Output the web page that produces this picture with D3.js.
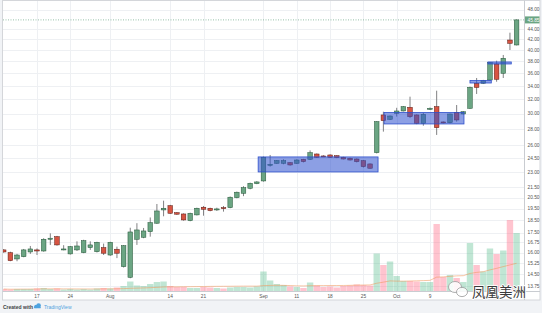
<!DOCTYPE html>
<html>
<head>
<meta charset="utf-8">
<script src="https://cdn.jsdelivr.net/npm/d3@7"></script>
<style>
	body { margin: 0; background: #f1f3f6; }
	svg { display: block; font-family: "Liberation Sans", Arial, sans-serif; }
</style>
</head>
<body>
<svg id="main-svg" width="542" height="313"></svg>
<script>
const dates = [
	"2017-07-10","2017-07-11","2017-07-12","2017-07-13","2017-07-14",
	"2017-07-17","2017-07-18","2017-07-19","2017-07-20","2017-07-21",
	"2017-07-24","2017-07-25","2017-07-26","2017-07-27","2017-07-28",
	"2017-07-31","2017-08-01","2017-08-02","2017-08-03","2017-08-04",
	"2017-08-07","2017-08-08","2017-08-09","2017-08-10","2017-08-11",
	"2017-08-14","2017-08-15","2017-08-16","2017-08-17","2017-08-18",
	"2017-08-21","2017-08-22","2017-08-23","2017-08-24","2017-08-25",
	"2017-08-28","2017-08-29","2017-08-30","2017-08-31","2017-09-01",
	"2017-09-05","2017-09-06","2017-09-07","2017-09-08",
	"2017-09-11","2017-09-12","2017-09-13","2017-09-14","2017-09-15",
	"2017-09-18","2017-09-19","2017-09-20","2017-09-21","2017-09-22",
	"2017-09-25","2017-09-26","2017-09-27","2017-09-28","2017-09-29",
	"2017-10-02","2017-10-03","2017-10-04","2017-10-05","2017-10-06",
	"2017-10-09","2017-10-10","2017-10-11","2017-10-12","2017-10-13",
	"2017-10-16","2017-10-17","2017-10-18","2017-10-19","2017-10-20",
	"2017-10-23","2017-10-24","2017-10-25","2017-10-26"
];

const open = [
	16.19, 15.99, 15.54, 15.70, 16.04, 16.19, 16.11, 16.99, 17.19, 16.19,
	15.90, 16.19, 15.99, 16.36, 16.06, 16.36, 15.82, 16.24, 15.01, 14.30,
	16.99, 17.14, 17.58, 18.27, 19.40, 19.78, 19.16, 19.05, 18.48, 18.97,
	19.64, 19.55, 19.40, 19.60, 19.60, 20.51, 20.92, 21.40, 21.85, 22.12,
	23.75, 23.96, 23.96, 24.03, 23.96, 24.40, 24.40, 24.99, 24.77, 24.88,
	24.80, 24.62, 24.51, 24.43, 24.25, 23.89, 25.14, 29.82, 29.24, 30.05,
	30.36, 30.87, 29.82, 28.72, 30.59, 30.96, 28.89, 28.79, 30.18, 29.95,
	30.73, 34.42, 34.42, 34.93, 37.56, 36.01, 41.86, 40.93
];
const high = [
	16.25, 16.06, 15.90, 16.26, 16.48, 16.30, 17.07, 17.45, 17.25, 16.54,
	16.48, 16.83, 16.95, 16.83, 16.80, 16.66, 16.80, 16.43, 16.55, 17.90,
	18.27, 17.88, 18.75, 19.93, 20.23, 19.85, 19.22, 19.10, 19.16, 19.60,
	19.75, 19.60, 19.60, 19.75, 20.62, 21.08, 21.60, 21.95, 22.10, 24.70,
	24.88, 24.32, 24.40, 24.10, 24.40, 24.45, 25.40, 25.05, 24.85, 24.95,
	24.86, 24.68, 24.58, 24.50, 24.32, 23.95, 29.00, 30.26, 29.75, 30.80,
	31.05, 32.39, 29.90, 30.10, 30.85, 33.28, 28.95, 30.00, 31.19, 30.35,
	33.90, 35.25, 34.95, 37.90, 38.12, 39.12, 43.27, 45.95
];
const low = [
	15.98, 15.38, 15.38, 15.66, 15.90, 15.82, 16.06, 16.56, 16.50, 16.16,
	15.85, 16.11, 15.95, 16.19, 16.00, 15.82, 15.76, 15.60, 14.95, 14.24,
	16.56, 17.07, 17.19, 18.21, 18.85, 19.05, 18.97, 18.48, 18.43, 18.92,
	18.90, 19.28, 19.31, 19.25, 19.55, 20.45, 20.65, 21.30, 21.80, 22.05,
	23.60, 23.90, 23.85, 23.70, 23.90, 24.05, 24.32, 24.55, 24.65, 24.55,
	24.52, 24.38, 24.26, 24.05, 23.50, 23.38, 25.05, 27.65, 29.15, 29.60,
	30.30, 29.40, 28.60, 28.40, 30.50, 27.24, 28.70, 28.70, 28.93, 29.90,
	30.65, 32.79, 34.30, 34.85, 34.66, 35.25, 40.01, 40.85
];
const close = [
	16.04, 15.42, 15.82, 16.19, 16.26, 16.11, 16.99, 17.07, 16.56, 16.26,
	16.43, 16.48, 16.88, 16.56, 16.76, 15.95, 16.76, 15.95, 16.50, 17.56,
	17.72, 17.64, 18.32, 19.31, 19.55, 19.11, 19.03, 18.54, 19.11, 19.55,
	19.46, 19.34, 19.49, 19.55, 20.55, 21.02, 21.46, 21.89, 22.02, 24.62,
	23.85, 24.25, 24.25, 23.78, 24.32, 24.14, 25.14, 24.62, 24.72, 24.62,
	24.58, 24.43, 24.32, 24.14, 23.60, 23.43, 28.93, 29.06, 29.68, 30.36,
	30.96, 29.59, 28.72, 29.91, 30.73, 28.15, 28.79, 29.95, 29.15, 30.26,
	33.80, 33.77, 34.82, 37.78, 35.04, 38.54, 41.24, 45.85
];
// thousands of shares
const volume = [
	97, 73, 97, 97, 97, 121, 145, 97, 121, 73,
	97, 73, 97, 73, 121, 145, 121, 169, 242, 459,
	266, 242, 338, 435, 459, 242, 193, 193, 145, 145,
	193, 169, 145, 121, 169, 193, 193, 169, 218, 943,
	508, 338, 290, 218, 193, 145, 411, 266, 193, 218,
	169, 242, 266, 314, 290, 266, 1813, 1257, 1426, 725,
	484, 484, 459, 435, 435, 3239, 677, 774, 629, 435,
	2321, 1257, 943, 2055, 1789, 1958, 3433, 2804
];

const priceTicks = [48, 44, 42, 40, 38, 36, 34, 32, 30, 28, 26, 24.5, 23, 21.5, 20.5, 19.5, 18.5, 17.5, 16.75, 16, 15.25, 14.5, 13.75];
const timeTicks = ["2017-07-17","2017-07-24","2017-08-01","2017-08-14","2017-08-21","2017-09-01","2017-09-11","2017-09-18","2017-09-25","2017-10-02","2017-10-09"];
const timeLabels = ["17", "24", "Aug", "14", "21", "Sep", "11", "18", "25", "Oct", "9"];

// drawn rectangles (bar index from / to, price top / bottom)
const zoneFrom = [38.2, 57.1, 70.0, 72.7];
const zoneTo = [56.2, 69.1, 73.2, 76.2];
const zoneTop = [24.66, 30.16, 34.85, 37.90];
const zoneBottom = [23.04, 28.63, 34.46, 37.56];

const lastPrice = 45.85;

const upColor = '#6ba583', downColor = '#d75442';
const upBorder = '#225437', downBorder = '#5b1a13';

var svg = d3.select('#main-svg');
const plotL = 2, plotR = 524, plotB = 291, frameR = 540, frameB = 300;

const x = d3.scaleLinear().domain([0, dates.length - 1]).range([3.7, 516.6]);
const y = d3.scaleLog().domain([13.75, 44]).range([286, 29]);
const yVol = d3.scaleLinear().domain([0, 4400]).range([plotB, 200]);

const bars = dates.map((d, i) => ({
	i: i, date: d, o: open[i], h: high[i], l: low[i], c: close[i], v: volume[i],
	up: close[i] >= open[i]
}));

// panel
svg.append('rect')
	.attr('x', 0).attr('y', 0).attr('width', 542).attr('height', 313)
	.attr('fill', '#f1f3f6');
svg.append('rect')
	.attr('x', 2.5).attr('y', 0.5).attr('width', frameR - 2.5).attr('height', frameB - 0.5)
	.attr('fill', '#fff').attr('stroke', '#d4d6da');

svg.append('clipPath').attr('id', 'plot-clip')
	.append('rect').attr('x', 3).attr('y', 1).attr('width', plotR - 3).attr('height', plotB - 1);

// grid
var grid = svg.append('g').attr('id', 'grid');
grid.selectAll('.hgrid')
	.data(priceTicks)
	.enter().append('line')
	.attr('x1', 3).attr('x2', plotR)
	.attr('y1', d => Math.round(y(d)) + 0.5)
	.attr('y2', d => Math.round(y(d)) + 0.5)
	.attr('stroke', '#eef0f3');
grid.selectAll('.vgrid')
	.data(timeTicks)
	.enter().append('line')
	.attr('x1', d => Math.round(x(dates.indexOf(d))) + 0.5)
	.attr('x2', d => Math.round(x(dates.indexOf(d))) + 0.5)
	.attr('y1', 1).attr('y2', plotB)
	.attr('stroke', '#eef0f3');

var plot = svg.append('g').attr('clip-path', 'url(#plot-clip)');

// volume
plot.append('g')
	.attr('id', 'volume')
	.selectAll('rect')
	.data(bars)
	.enter().append('rect')
	.attr('x', d => x(d.i) - 3.2)
	.attr('width', 6.4)
	.attr('y', d => yVol(d.v))
	.attr('height', d => plotB - yVol(d.v))
	.attr('fill', d => d.up ? 'rgba(80,185,135,0.36)' : 'rgba(255,100,130,0.38)');

// volume moving average (20)
const volMa = bars.map(d => ({
	i: d.i,
	v: d3.mean(volume.slice(Math.max(0, d.i - 19), d.i + 1))
}));
plot.append('path')
	.datum(volMa)
	.attr('fill', 'none')
	.attr('stroke', 'rgba(240,150,90,0.55)')
	.attr('stroke-width', 1)
	.attr('d', d3.line().x(d => x(d.i)).y(d => yVol(d.v)));

// price line
plot.append('line')
	.attr('x1', 3).attr('x2', plotR)
	.attr('y1', y(lastPrice)).attr('y2', y(lastPrice))
	.attr('stroke', upColor).attr('stroke-opacity', 0.7)
	.attr('stroke-dasharray', '1,1.5');

// candles
var candles = plot.append('g').attr('id', 'candles');
candles.selectAll('line')
	.data(bars)
	.enter().append('line')
	.attr('x1', d => x(d.i)).attr('x2', d => x(d.i))
	.attr('y1', d => y(d.h)).attr('y2', d => y(d.l))
	.attr('stroke', '#737375').attr('stroke-width', 0.9);
candles.selectAll('rect')
	.data(bars)
	.enter().append('rect')
	.attr('x', d => x(d.i) - 2.3)
	.attr('width', 4.6)
	.attr('y', d => y(Math.max(d.o, d.c)))
	.attr('height', d => Math.max(1, Math.abs(y(d.o) - y(d.c))))
	.attr('fill', d => d.up ? upColor : downColor)
	.attr('stroke', d => d.up ? upBorder : downBorder)
	.attr('stroke-width', 0.5);

// rectangles drawn on chart
plot.append('g')
	.attr('id', 'zones')
	.selectAll('rect')
	.data(zoneFrom)
	.enter().append('rect')
	.attr('x', (d, k) => x(d))
	.attr('width', (d, k) => x(zoneTo[k]) - x(d))
	.attr('y', (d, k) => y(zoneTop[k]))
	.attr('height', (d, k) => y(zoneBottom[k]) - y(zoneTop[k]))
	.attr('fill', 'rgba(45,80,205,0.55)')
	.attr('stroke', '#2d4fcc')
	.attr('stroke-width', 0.8);

// price axis
svg.append('line')
	.attr('x1', plotR + 0.5).attr('x2', plotR + 0.5)
	.attr('y1', 0.5).attr('y2', frameB)
	.attr('stroke', '#c9ccd1');
svg.append('g')
	.attr('id', 'price-labels')
	.selectAll('text')
	.data(priceTicks.filter(d => Math.abs(y(d) - y(lastPrice)) > 5))
	.enter().append('text')
	.attr('x', 527.5)
	.attr('y', d => y(d))
	.attr('dy', '0.35em')
	.attr('font-size', 4.8)
	.attr('fill', '#555')
	.text(d => d.toFixed(2));
svg.append('rect')
	.attr('x', 525).attr('y', y(lastPrice) - 3.5)
	.attr('width', 14.5).attr('height', 7)
	.attr('fill', upColor);
svg.append('text')
	.attr('x', 527.5).attr('y', y(lastPrice))
	.attr('dy', '0.35em')
	.attr('font-size', 4.8)
	.attr('fill', '#fff')
	.text(lastPrice.toFixed(2));

// time axis
svg.append('line')
	.attr('x1', 2.5).attr('x2', frameR)
	.attr('y1', plotB + 0.5).attr('y2', plotB + 0.5)
	.attr('stroke', '#c9ccd1');
svg.append('g')
	.attr('id', 'time-labels')
	.selectAll('text')
	.data(timeTicks)
	.enter().append('text')
	.attr('x', d => x(dates.indexOf(d)))
	.attr('y', 297.5)
	.attr('text-anchor', 'middle')
	.attr('font-size', 4.8)
	.attr('fill', '#555')
	.text((d, k) => timeLabels[k]);

// footer
svg.append('text')
	.attr('x', 3).attr('y', 308.5)
	.attr('font-size', 5).attr('font-weight', 'bold')
	.attr('fill', '#3c3f45')
	.text('Created with');
var logo = svg.append('g').attr('fill', '#4fa3e0');
logo.append('circle').attr('cx', 36).attr('cy', 306.5).attr('r', 1.8);
logo.append('circle').attr('cx', 38.6).attr('cy', 305.6).attr('r', 2.3);
logo.append('rect').attr('x', 34).attr('y', 306.4).attr('width', 6.8).attr('height', 1.9).attr('rx', 0.9);
svg.append('text')
	.attr('x', 44).attr('y', 308.5)
	.attr('font-size', 5)
	.attr('fill', '#4fa3e0')
	.text('TradingView');

// watermark
var wm = svg.append('g').attr('id', 'watermark');
wm.append('ellipse').attr('cx', 455).attr('cy', 287).attr('rx', 6.5).attr('ry', 5.5)
	.attr('fill', 'rgba(255,255,255,0.85)').attr('stroke', '#9a9a9a').attr('stroke-width', 0.8);
wm.append('ellipse').attr('cx', 462).attr('cy', 292).attr('rx', 5.5).attr('ry', 4.6)
	.attr('fill', 'rgba(255,255,255,0.85)').attr('stroke', '#9a9a9a').attr('stroke-width', 0.8);
wm.append('text')
	.attr('x', 472).attr('y', 297)
	.attr('font-size', 13.5)
	.attr('font-family', '"Noto Sans CJK SC", sans-serif')
	.attr('fill', '#3a3a3a')
	.attr('stroke', '#fff').attr('stroke-width', 1.6)
	.attr('paint-order', 'stroke')
	.text('凤凰美洲');
</script>
</body>
</html>
